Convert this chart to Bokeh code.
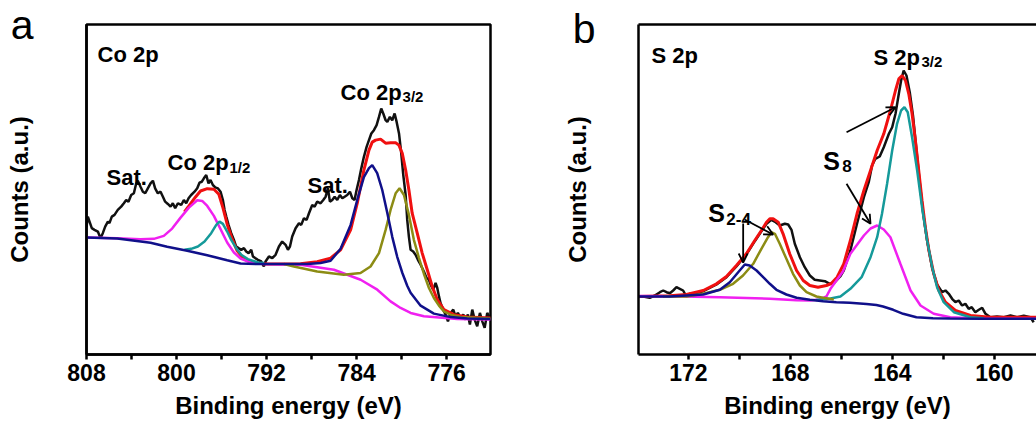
from bokeh.plotting import figure
from bokeh.models import Range1d, FixedTicker, LinearAxis, Label, Arrow, OpenHead
from bokeh.layouts import row
from bokeh.embed import file_html
from bokeh.resources import INLINE

# ---------------- Panel a : Co 2p ----------------
co_raw_be = [808.00, 807.88, 807.73, 807.53, 807.29, 806.99, 806.76, 806.55, 806.34, 806.10, 805.96, 805.75,
             805.51, 805.22, 804.92, 804.68, 804.47, 804.27, 804.03, 803.79, 803.58, 803.44, 803.20, 802.99,
             802.78, 802.55, 802.31, 802.10, 801.90, 801.66, 801.42, 801.21, 801.01, 800.77, 800.53, 800.33,
             800.12, 799.88, 799.58, 799.35, 799.14, 798.93, 798.70, 798.40, 798.16, 797.96, 797.75, 797.57,
             797.36, 797.16, 796.98, 796.77, 796.56, 796.33, 796.09, 795.88, 795.73, 795.58, 795.38, 795.14,
             794.90, 794.70, 794.49, 794.25, 794.01, 793.81, 793.60, 793.36, 793.21, 793.01, 792.77, 792.47,
             792.24, 792.09, 791.79, 791.49, 791.20, 790.90, 790.61, 790.31, 790.10, 789.92, 789.72, 789.42,
             789.12, 788.92, 788.68, 788.44, 788.23, 787.94, 787.73, 787.50, 787.20, 786.96, 786.75, 786.55,
             786.37, 786.16, 785.95, 785.72, 785.48, 785.27, 785.06, 784.83, 784.59, 784.38, 784.18, 784.00,
             783.79, 783.58, 783.35, 783.11, 782.90, 782.69, 782.46, 782.22, 782.01, 781.81, 781.63, 781.42,
             781.27, 781.04, 780.83, 780.62, 780.44, 780.23, 780.03, 779.85, 779.64, 779.50, 779.35, 779.20,
             778.97, 778.76, 778.55, 778.31, 778.02, 777.78, 777.57, 777.42, 777.19, 776.98, 776.83, 776.68,
             776.54, 776.30, 776.09, 775.88, 775.65, 775.41, 775.20, 775.00, 774.76, 774.52, 774.31, 774.11,
             773.93, 773.72, 773.51, 773.28, 773.04, 772.83, 772.62, 772.39, 772.15]
co_raw_int = [128, 138.3, 133.3, 126.7, 125, 123.3, 116.7, 121.7, 128.3, 133.3, 131.7, 138.3,
              140, 145, 148.3, 151.7, 155, 153.3, 160, 161.7, 171.7, 174.3, 168.3, 163.3,
              161.7, 166.7, 171.7, 174.3, 166.7, 161.7, 163.3, 158.3, 153.3, 151, 148.3, 151.7,
              146.7, 151.7, 150, 155, 151.7, 156.7, 160, 163.3, 166.7, 172.3, 173.3, 176.7,
              180, 171.7, 175, 170, 167.7, 166.7, 163.3, 155, 145, 138.3, 130, 121.7,
              115, 108.3, 106.7, 105, 106.7, 103.3, 101.7, 105, 98.3, 96.7, 95, 93.3,
              88.3, 93.3, 98.3, 96.7, 100, 108.3, 113.3, 110, 105, 108.3, 118.3, 126.7,
              131.7, 130, 136.7, 135, 141.7, 150, 148.3, 153.3, 151.7, 155, 158.3, 166.7,
              153.3, 155, 158.3, 155, 160, 156.7, 158.3, 160, 163.3, 156.7, 155, 165,
              175, 186.7, 198.3, 208.3, 215, 221.7, 225, 230, 238.3, 246.7, 241.7, 235,
              233.3, 238.3, 235, 241.7, 233.3, 221.7, 201.7, 180, 160, 135, 118, 105,
              103.3, 100, 95, 90, 83.3, 76.7, 75, 70, 65, 71.7, 66.7, 58.3,
              51.7, 45, 40, 33.3, 41.7, 45, 38.3, 41.7, 36.7, 40, 35, 40,
              30, 45, 35, 28.3, 41.7, 33.3, 26.7, 41.7, 36.7]

co_env_be = [799.30, 798.90, 798.31, 797.87, 797.27, 796.68, 796.24, 795.88, 795.50, 795.05, 794.61, 794.01,
             793.13, 791.94, 788.98, 787.50, 786.31, 785.42, 784.53, 783.94, 783.35, 782.90, 782.61, 782.31,
             781.87, 781.42, 780.98, 780.53, 780.24, 779.94, 779.64, 779.35, 779.06, 778.61, 778.17, 777.72,
             777.28, 776.83, 776.24, 775.35, 774.16, 772.09]
co_env_int = [143, 149, 158, 164, 166.3, 165.7, 160.7, 147.3, 130.7, 115.7, 104, 95.7,
              91.7, 90.7, 91, 93, 96.7, 105, 125, 151.7, 185, 205, 213, 215,
              216, 212, 212.5, 212.3, 210, 201.7, 185, 165, 141.7, 121.7, 101.7, 85,
              68.3, 55, 45, 40, 37.7, 36.5]

co_bg_be = [808.00, 805.27, 802.31, 800.83, 799.05, 797.27, 795.50, 794.31, 792.53, 790.46, 788.39, 787.20,
            786.31, 785.42, 784.53, 783.94, 783.35, 782.90, 782.61, 782.17, 781.72, 781.27, 780.83, 780.39,
            779.94, 779.50, 779.20, 778.31, 777.13, 775.64, 774.16, 772.09]
co_bg_int = [117.3, 116.3, 112, 108, 104, 99.5, 94.5, 91.3, 90.7, 90.7, 90.7, 91.7,
             94, 106, 130, 155, 178, 187, 190, 182, 165, 142, 118, 98,
             82, 69, 62, 49, 41, 37.5, 36, 35.5]

co_mag_be = [808.00, 805.27, 803.20, 802.01, 801.13, 800.39, 799.64, 798.90, 798.16, 797.72, 797.27, 796.68,
             796.09, 795.50, 794.90, 794.31, 793.42, 792.24, 790.46, 788.98, 786.01, 783.64, 782.16, 780.98,
             780.09, 779.20, 778.02, 775.05, 772.09]
co_mag_int = [117.3, 116.7, 115.7, 116, 119, 126.3, 137.3, 147.3, 154.7, 154, 149, 139,
              125.7, 112.3, 102.3, 96.3, 92.3, 90.7, 90.3, 90, 85, 75, 65, 53.3,
              46.7, 41.7, 38.3, 35.7, 35]

co_teal_be = [799.30, 798.70, 798.10, 797.51, 796.92, 796.47, 796.18, 795.88, 795.50, 795.14, 794.70, 794.25,
              793.66, 792.77, 792.20]
co_teal_int = [105, 106, 108.3, 113.3, 121.7, 130, 133.3, 131, 123.3, 115, 106.7, 100,
               95.7, 92.3, 91.7]

co_olive_be = [790.46, 789.57, 787.50, 785.13, 783.65, 782.76, 782.01, 781.42, 780.98, 780.53, 780.18, 779.79,
               779.35, 778.91, 778.46, 778.02, 777.57, 777.13, 776.68, 776.24, 775.65, 774.76, 772.09]
co_olive_int = [90.7, 88.3, 83.3, 80, 81.7, 88.3, 101.7, 125, 145, 161.7, 166.7, 160,
                140, 115, 97, 81, 66.7, 56.7, 49, 43.3, 40, 37.7, 36]

co_ticks = [808, 800, 792, 784, 776]
co_minor = [804, 796, 788, 780]

# ---------------- Panel b : S 2p ----------------
s_raw_be = [174.04, 173.78, 173.52, 173.32, 173.12, 172.99, 172.86, 172.73, 172.60, 172.47, 172.34, 172.21,
            172.08, 171.95, 171.75, 171.42, 170.90, 170.51, 170.12, 169.73, 169.40, 169.14, 168.94, 168.75,
            168.58, 168.42, 168.22, 168.09, 167.96, 167.83, 167.63, 167.44, 167.24, 167.05, 166.85, 166.65,
            166.46, 166.26, 166.05, 165.91, 165.65, 165.39, 165.12, 164.93, 164.80, 164.67, 164.50, 164.34,
            164.14, 164.01, 163.88, 163.75, 163.66, 163.56, 163.45, 163.32, 163.19, 163.06, 162.93, 162.80,
            162.64, 162.44, 162.25, 162.05, 161.92, 161.79, 161.66, 161.53, 161.40, 161.27, 161.14, 161.01,
            160.89, 160.75, 160.61, 160.48, 160.35, 160.16, 159.90, 159.63, 159.37, 159.11, 158.85, 158.59,
            158.46]
s_raw_int = [57.3, 58, 56.7, 59, 62.3, 64, 62.3, 61.3, 64, 67.3, 65.7, 64,
             58, 60.7, 61.3, 63.3, 70, 77.3, 88, 100, 113.3, 123.3, 130.7, 134.7,
             132.3, 129, 130.7, 130, 124.7, 110.7, 97.3, 87.3, 79, 74.7, 74, 73.3,
             70.7, 72.3, 78, 84, 104, 130.7, 157.3, 172.3, 189, 195.7, 198, 207.3,
             220.7, 227.3, 240.7, 260.7, 274, 284, 279, 262, 238, 205, 172, 142,
             114, 86, 70, 62.3, 64, 60.7, 55.7, 52.3, 54, 49, 50.7, 45.7,
             47.3, 42.3, 44.7, 46.7, 40.7, 37.3, 38, 37.3, 39, 37.3, 38.7, 37.3,
             32.3]

s_env_be = [174.04, 172.73, 172.08, 171.42, 170.90, 170.51, 170.12, 169.73, 169.40, 169.14, 168.94, 168.81,
            168.68, 168.48, 168.29, 168.03, 167.76, 167.50, 167.24, 166.92, 166.59, 166.40, 166.17, 165.91,
            165.65, 165.39, 165.12, 164.86, 164.60, 164.34, 164.08, 163.88, 163.75, 163.62, 163.49, 163.36,
            163.23, 163.10, 162.97, 162.84, 162.71, 162.57, 162.38, 162.18, 161.92, 161.53, 160.94, 160.16,
            158.35]
s_env_int = [58, 58.7, 60, 64, 70.7, 78, 89, 100.7, 114, 124, 132.3, 135.7,
             135.7, 132.3, 120.7, 100.7, 84, 74, 69, 67.3, 69, 71, 77.3, 90.7,
             114, 140.7, 164, 184, 204, 220.7, 244, 264, 275.7, 279, 274, 260.7,
             240.7, 214, 184, 154, 127.3, 104, 80.7, 64, 52.3, 44, 39, 37.3,
             37.3]

s_bg_be = [174.04, 172.73, 171.42, 170.77, 170.38, 170.05, 169.79, 169.60, 169.33, 169.07, 168.81, 168.55,
           168.16, 167.76, 167.24, 166.72, 166.20, 165.67, 165.02, 164.63, 164.37, 163.97, 163.58, 163.06,
           162.41, 161.75, 160.44, 158.35]
s_bg_int = [58, 58, 60, 64.7, 72.3, 82.3, 90, 89, 84, 77.3, 70.7, 64.7,
            60, 56.7, 54.7, 53.3, 52.3, 51.7, 50.5, 49.5, 48, 44.7, 40.7, 37.3,
            36.3, 36, 35.7, 35.7]

s_olive_be = [173.00, 172.08, 171.42, 170.77, 170.25, 169.86, 169.46, 169.14, 168.88, 168.75, 168.61, 168.42,
              168.16, 167.90, 167.63, 167.37, 166.98, 166.72, 166.30]
s_olive_int = [58, 58, 60.7, 64.7, 70.7, 79, 90.7, 105.7, 117.3, 122.3, 120.7, 110.7,
               95.7, 80.7, 69, 62.3, 58, 56.7, 55]

s_mag_be = [174.04, 172.73, 170.77, 168.81, 167.76, 167.24, 166.85, 166.59, 166.43, 165.94, 165.65, 165.12,
            164.86, 164.60, 164.34, 164.08, 163.69, 163.29, 162.90, 162.38, 161.73, 160.71, 158.35]
s_mag_int = [58.5, 58.3, 57.3, 55.7, 54.3, 54, 55, 58, 65.7, 83, 100.7, 119,
             126, 129, 125, 117.3, 90.7, 64, 49, 40.7, 37.3, 36, 35.7]

s_teal_be = [167.00, 166.43, 166.04, 165.65, 165.21, 164.86, 164.60, 164.41, 164.21, 164.01, 163.82, 163.66,
             163.53, 163.40, 163.23, 163.03, 162.84, 162.64, 162.44, 162.25, 161.99, 161.59, 160.94, 160.42]
s_teal_int = [54.5, 56, 58, 65.7, 77.3, 97.3, 117.3, 140.7, 170.7, 204, 230.7, 244,
              247.3, 242.3, 217.3, 184, 147.3, 114, 87.3, 67.3, 52.3, 42.3, 37.3, 36.3]

s_ticks = [172, 168, 164, 160]
s_minor = [170, 166, 162]

FONT = "Liberation Sans"
C_BLACK = "#111111"
C_RED = "#f01010"
C_BLUE = "#10108a"
C_OLIVE = "#8c8c14"
C_MAG = "#f020f0"
C_TEAL = "#159a9a"


def make_fig(width, bl, br, bb, xr, yr):
    p = figure(width=width, height=425, x_range=Range1d(*xr), y_range=Range1d(*yr),
               output_backend="svg", toolbar_location=None,
               x_axis_location=None, y_axis_location=None,
               min_border_left=bl, min_border_right=br, min_border_top=24, min_border_bottom=bb)
    p.grid.visible = False
    p.background_fill_color = "white"
    p.border_fill_color = "white"
    return p


def style_bottom(p, ticks, minor):
    ax = LinearAxis(ticker=FixedTicker(ticks=ticks, minor_ticks=minor), axis_label="Binding energy (eV)")
    ax.axis_line_width = 2.5
    ax.axis_line_color = "black"
    ax.major_tick_in = 0
    ax.major_tick_out = 5
    ax.minor_tick_in = 0
    ax.minor_tick_out = 5
    ax.major_tick_line_width = 2.5
    ax.minor_tick_line_width = 2.5
    ax.major_label_standoff = 4
    ax.major_label_text_font = FONT
    ax.major_label_text_font_size = "23px"
    ax.major_label_text_font_style = "bold"
    ax.major_label_text_color = "black"
    ax.axis_label_standoff = 8
    ax.axis_label_text_font = FONT
    ax.axis_label_text_font_size = "24px"
    ax.axis_label_text_font_style = "bold"
    ax.axis_label_text_color = "black"
    p.add_layout(ax, "below")


def style_left(p, letter_pos, letter, label_standoff, letter_standoff):
    # the panel letter is carried as the only tick label of the left axis
    ax = LinearAxis(ticker=FixedTicker(ticks=[letter_pos]), axis_label="Counts (a.u.)")
    ax.major_label_overrides = {letter_pos: letter}
    ax.axis_line_width = 2.5
    ax.axis_line_color = "black"
    ax.major_tick_out = 0
    ax.major_tick_in = 0
    ax.minor_tick_out = 0
    ax.minor_tick_in = 0
    ax.major_label_standoff = letter_standoff
    ax.major_label_text_font = FONT
    ax.major_label_text_font_size = "41px"
    ax.major_label_text_font_style = "normal"
    ax.major_label_text_color = "black"
    ax.axis_label_standoff = label_standoff
    ax.axis_label_text_font = FONT
    ax.axis_label_text_font_size = "24px"
    ax.axis_label_text_font_style = "bold"
    ax.axis_label_text_color = "black"
    p.add_layout(ax, "left")


def lab(p, x, y, text, size, dx=0, dy=0):
    p.add_layout(Label(x=x, y=y, x_offset=dx, y_offset=dy, text=text, text_font=FONT,
                       text_font_size=size, text_font_style="bold", text_color="black",
                       text_align="left", text_baseline="alphabetic"))


# ---------- panel a ----------
pa = make_fig(516, 86, 26, 70, (808, 772.1), (0, 331))
pa.outline_line_color = "black"
pa.outline_line_width = 2.5
pa.outline_line_alpha = 1.0
style_bottom(pa, co_ticks, co_minor)
style_left(pa, 330.5, "a", -25, 53)

pa.line(co_raw_be, co_raw_int, line_color=C_BLACK, line_width=2.5)
pa.line(co_env_be, co_env_int, line_color=C_RED, line_width=3)
pa.line(co_mag_be, co_mag_int, line_color=C_MAG, line_width=2.5)
pa.line(co_teal_be, co_teal_int, line_color=C_TEAL, line_width=2.5)
pa.line(co_olive_be, co_olive_int, line_color=C_OLIVE, line_width=2.5)
pa.line(co_bg_be, co_bg_int, line_color=C_BLUE, line_width=2.5)

lab(pa, 807.02, 301, "Co 2p", "22px")
lab(pa, 806.22, 178, "Sat.", "22px")
lab(pa, 800.8, 193, "Co 2p", "22px")
lab(pa, 800.8, 193, "1/2", "15px", dx=62, dy=-5)
lab(pa, 788.36, 170, "Sat.", "22px")
lab(pa, 785.42, 263, "Co 2p", "22px")
lab(pa, 785.42, 263, "3/2", "15px", dx=62, dy=-4)

# ---------- panel b ----------
pb = make_fig(520, 122, 0, 71, (173.96, 158.35), (0, 330))
pb.outline_line_color = None
style_bottom(pb, s_ticks, s_minor)
style_left(pb, 326, "b", -21, 43)
top = LinearAxis(ticker=FixedTicker(ticks=[]))
top.axis_line_width = 2.5
top.axis_line_color = "black"
top.major_tick_out = 0
top.major_tick_in = 0
top.minor_tick_out = 0
top.minor_tick_in = 0
top.major_label_text_font_size = "0px"
pb.add_layout(top, "above")

pb.line(s_raw_be, s_raw_int, line_color=C_BLACK, line_width=2.5)
pb.line(s_env_be, s_env_int, line_color=C_RED, line_width=3)
pb.line(s_mag_be, s_mag_int, line_color=C_MAG, line_width=2.5)
pb.line(s_teal_be, s_teal_int, line_color=C_TEAL, line_width=2.5)
pb.line(s_olive_be, s_olive_int, line_color=C_OLIVE, line_width=2.5)
pb.line(s_bg_be, s_bg_int, line_color=C_BLUE, line_width=2.5)

lab(pb, 173.45, 299, "S 2p", "22px")
lab(pb, 164.745, 297, "S 2p", "22px")
lab(pb, 164.745, 297, "3/2", "15px", dx=48, dy=-4)
lab(pb, 166.71, 194, "S", "25px")
lab(pb, 166.71, 194, "8", "17px", dx=19, dy=-5)
lab(pb, 171.22, 142, "S", "25px")
lab(pb, 171.22, 142, "2-4", "17px", dx=18, dy=-6)

for (xs, ys, xe, ye) in [(169.855, 131, 169.855, 92), (169.80, 135, 168.68, 120),
                         (165.80, 222.3, 163.88, 247.3), (165.80, 170.7, 164.86, 130.7)]:
    pb.add_layout(Arrow(end=OpenHead(size=9, line_width=1.8, line_color="black"),
                        x_start=xs, y_start=ys, x_end=xe, y_end=ye,
                        line_width=1.8, line_color="black"))

layout = row(pa, pb)
open("out.html", "w").write(file_html(layout, INLINE))
